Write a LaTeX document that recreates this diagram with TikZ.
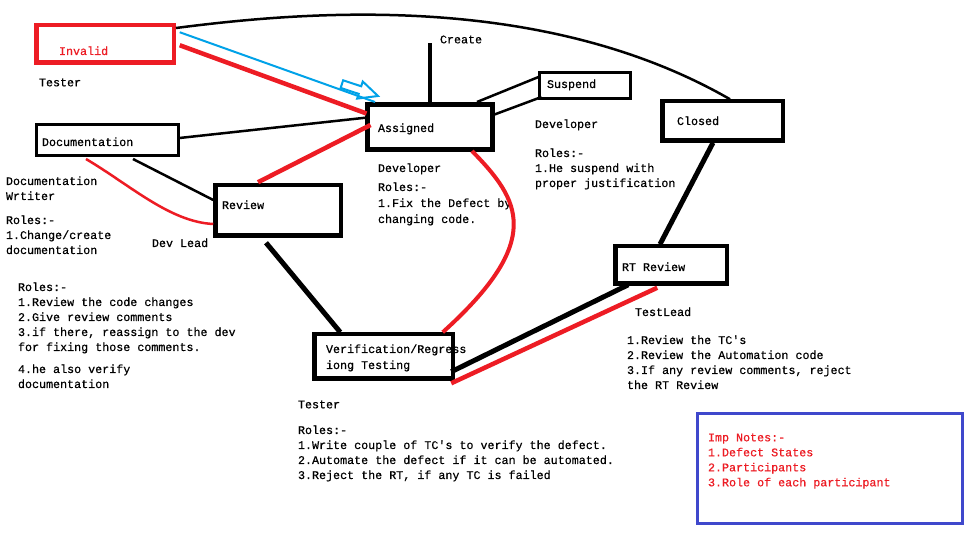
\documentclass[tikz,border=0pt]{standalone}
\usepackage{fontspec}
\newfontfamily\pmono{Liberation Mono}[FakeBold=0.5]
\usetikzlibrary{calc,arrows.meta}
\definecolor{pred}{HTML}{ED1C24}
\definecolor{pblue}{HTML}{00A2E8}
\definecolor{pindigo}{HTML}{3F48CC}
\begin{document}
\begin{tikzpicture}[x=1pt,y=-1pt,
  box/.style={draw, rectangle, inner sep=0pt, outer sep=0pt},
  txt/.style={anchor=north west, inner sep=0pt, outer sep=0pt, align=left,
    font=\pmono\fontsize{11.7}{15}\selectfont},
  txtw/.style={txt, font=\pmono\fontsize{11.7}{16}\selectfont},
  thinln/.style={line width=2.5pt},
  redln/.style={draw=pred, line width=4.5pt}]
\fill[white] (0,0) rectangle (970,534);
\useasboundingbox (0,0) rectangle (970,534);

% texts
\begin{scope}[yshift=-1.5pt]
\node[txt, text=pred] (tInvalid) at (59,45) {Invalid};
\node[txt] (tTester1) at (39,77) {Tester};
\node[txt] (tCreate) at (440,34) {Create};
\node[txt] (tDoc) at (42,136) {Documentation};
\node[txt] (tDocW) at (6,175) {Documentation\\Wrtiter};
\node[txt] (tDocR) at (6,214) {Roles:-\\1.Change/create\\documentation};
\node[txt] (tDevLead) at (152,237) {Dev Lead};
\node[txt] (tReview) at (222,199) {Review};
\node[txt] (tAssigned) at (378,122) {Assigned};
\node[txt] (tDev1) at (378,162) {Developer};
\node[txtw] (tDevR) at (378,181) {Roles:-\\1.Fix the Defect by\\changing code.};
\node[txt] (tSuspend) at (547,78) {Suspend};
\node[txt] (tDev2) at (535,118) {Developer};
\node[txt] (tSusR) at (535,147) {Roles:-\\1.He suspend with\\proper justification};
\node[txt] (tClosed) at (677,115) {Closed};
\node[txt] (tRT) at (622,261) {RT Review};
\node[txt] (tTestLead) at (635,306) {TestLead};
\node[txt] (tRTR) at (627,334) {1.Review the TC's\\2.Review the Automation code\\3.If any review comments, reject\\the RT Review};
\node[txt] (tRevR) at (18,281) {Roles:-\\1.Review the code changes\\2.Give review comments\\3.if there, reassign to the dev\\for fixing those comments.};
\node[txt] (tRevR2) at (18,363) {4.he also verify\\documentation};
\node[txtw] (tVer) at (326,343) {Verification/Regress\\iong Testing};
\node[txt] (tTester2) at (298,399) {Tester};
\node[txt] (tTesR) at (298,424) {Roles:-\\1.Write couple of TC's to verify the defect.\\2.Automate the defect if it can be automated.\\3.Reject the RT, if any TC is failed};
\node[txt, text=pred] (tImp) at (708,432) {Imp Notes:-\\1.Defect States\\2.Participants\\3.Role of each participant};
\end{scope}

% boxes
\node[box, draw=pred, line width=4.5pt, minimum width=137.5pt, minimum height=37.5pt] (invalid) at (105,44) {};
\node[box, line width=3pt, minimum width=142pt, minimum height=31pt] (doc) at (107.5,140) {};
\node[box, line width=5pt, minimum width=125pt, minimum height=45pt] (assigned) at (430,127) {};
\node[box, line width=4.5pt, minimum width=125.5pt, minimum height=50.5pt] (review) at (278,210.5) {};
\node[box, line width=3pt, minimum width=91pt, minimum height=26pt] (suspend) at (585,85.5) {};
\node[box, line width=4.5pt, minimum width=120.5pt, minimum height=39.5pt] (closed) at (722.5,121) {};
\node[box, line width=4.5pt, minimum width=111.5pt, minimum height=37.5pt] (rt) at (671,265) {};
\node[box, line width=4.5pt, minimum width=138.5pt, minimum height=44.5pt] (verif) at (383.5,356.5) {};
\node[box, draw=pindigo, line width=3pt, minimum width=265pt, minimum height=110pt] (imp) at (830,468.5) {};

\coordinate (createtop) at ($(assigned.north)+(0,-61)$);
\coordinate (btip) at ($(assigned.north west)+(10.5,-8.5)$);

% connectors
\draw[line width=2.5pt] ($(invalid.north east)+(2.25,2.75)$) .. controls (300,12) and (540,-10) .. ($(closed.north)+(7.5,-2)$);
\draw[draw=pblue, line width=2pt] ($(invalid.north east)+(6,7)$) -- ($(btip)+(-3,6)$);
\draw[draw=pblue, line width=2pt, line join=miter, shift={(btip)}, rotate=-18.2]
  (-38,-4) -- (-19,-4) -- (-19,-9) -- (0,0) -- (-19,9) -- (-19,4) -- (-38,4) -- cycle;
\draw[redln] ($(invalid.north east)+(6,20)$) -- ($(assigned.north west)+(-1,9)$);
\draw[thinln] ($(doc.east)+(1,-2)$) -- ($(assigned.north west)+(0,13)$);
\draw[redln] ($(assigned.north west)+(3,20.5)$) -- ($(review.north)+(-20,-3)$);
\draw[thinln] ($(doc.south)+(25.5,3.5)$) -- ($(review.west)+(-2,-10.5)$);
\draw[draw=pred, line width=2.5pt] ($(doc.south)+(-21.5,3.5)$) .. controls (130,185) and (170,222) .. ($(review.west)+(-2,13.5)$);
\draw[line width=4.5pt] (assigned.north) -- (createtop);
\draw[thinln] ($(assigned.north east)+(-15.5,-2.5)$) -- ($(suspend.west)+(-1,-8.5)$);
\draw[thinln] ($(assigned.north east)+(-2,11.5)$) -- ($(suspend.south west)+(2,-1.5)$);
\draw[draw=pred, line width=4pt] ($(assigned.south east)+(-20.5,1.5)$) .. controls (520,200) and (545,240) .. ($(verif.north east)+(-10,-2)$);
\draw[line width=5pt] ($(review.south)+(-12,7)$) -- ($(verif.north west)+(26,-2)$);
\draw[line width=5pt] ($(rt.south west)+(13,1)$) -- ($(verif.south east)+(-1.5,-7)$);
\draw[redln] ($(rt.south west)+(42,4)$) -- ($(verif.south east)+(-1.5,4.5)$);
\draw[line width=5pt] ($(closed.south)+(-9.5,2)$) -- ($(rt.north)+(-11,-2)$);
\end{tikzpicture}
\end{document}
